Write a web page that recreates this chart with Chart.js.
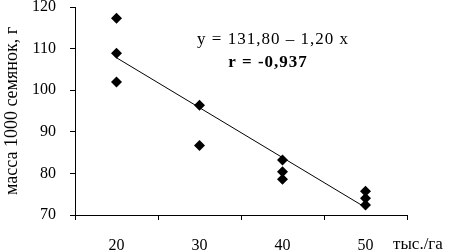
<!DOCTYPE html>
<html>
<head>
<meta charset="utf-8">
<script src="https://cdn.jsdelivr.net/npm/chart.js@4"></script>
<style>
  html, body { margin: 0; padding: 0; background: #fff; }
  #wrap { width: 452px; height: 252px; }
</style>
</head>
<body>
<div id="wrap"><canvas id="chartMassa"></canvas></div>
<script>
const densidades = ['20', '30', '40', '50'];
const puntosX = ['20', '20', '20', '30', '30', '40', '40', '40', '50', '50', '50'];
const puntosY = [117.3, 108.9, 102.0, 96.4, 86.7, 83.2, 80.4, 78.6, 75.7, 74.0, 72.4];
const tendenciaX = ['20', '50'];
const tendenciaY = [107.8, 71.8];
const yTicks = [70, 80, 90, 100, 110, 120];

const fuente = "'Liberation Serif', 'Times New Roman', serif";

const etiquetas = {
  id: 'etiquetas',
  afterDraw(chart) {
    const ctx = chart.ctx;
    const area = chart.chartArea;
    ctx.save();
    ctx.fillStyle = '#000';
    ctx.textAlign = 'center';
    ctx.textBaseline = 'middle';
    ctx.letterSpacing = '1px';
    ctx.font = '17px ' + fuente;
    ctx.fillText('y = 131,80 \u2013 1,20 x', 273, 40);
    ctx.font = 'bold 17px ' + fuente;
    ctx.fillText('r = -0,937', 268, 63);
    ctx.letterSpacing = '0px';
    ctx.font = '17px ' + fuente;
    ctx.textAlign = 'left';
    ctx.fillText('тыс./га', area.right - 14, 245);
    ctx.restore();
  }
};

new Chart(document.getElementById('chartMassa'), {
  type: 'scatter',
  data: {
    labels: densidades,
    datasets: [{
      label: 'масса',
      data: puntosX.map((x, i) => ({ x: x, y: puntosY[i] })),
      backgroundColor: '#000',
      borderColor: '#000',
      borderWidth: 0,
      pointStyle: 'rectRot',
      pointRadius: 5.5,
      showLine: false
    }, {
      label: 'тренд',
      data: tendenciaX.map((x, i) => ({ x: x, y: tendenciaY[i] })),
      borderColor: '#000',
      borderWidth: 1,
      pointRadius: 0,
      showLine: true,
      tension: 0
    }]
  },
  options: {
    responsive: true,
    maintainAspectRatio: false,
    animation: false,
    layout: { padding: { top: 0, right: 45, left: 0, bottom: 0 } },
    scales: {
      x: {
        type: 'category',
        labels: densidades,
        offset: true,
        border: { color: '#000', width: 1 },
        grid: { offset: true, drawOnChartArea: false, drawTicks: true, tickLength: 5, color: '#000' },
        ticks: { color: '#000', font: { family: fuente, size: 16 }, padding: 16, maxRotation: 0 },
        afterFit(scale) {
          scale.height = 37;
          scale.paddingLeft = 0;
          scale.paddingRight = 0;
        }
      },
      y: {
        min: 70,
        max: 120,
        border: { color: '#000', width: 1 },
        grid: { drawOnChartArea: false, drawTicks: true, tickLength: 5, color: '#000' },
        afterBuildTicks(scale) { scale.ticks = yTicks.map(v => ({ value: v })); },
        ticks: { color: '#000', font: { family: fuente, size: 16, lineHeight: 1 }, padding: 14 },
        title: {
          display: true,
          text: 'масса 1000 семянок, г',
          color: '#000',
          font: { family: fuente, size: 18 },
          padding: { top: 1, bottom: 0 }
        },
        afterFit(scale) {
          scale.width = 75;
          scale.paddingTop = 7;
          scale.paddingBottom = 0;
        }
      }
    },
    plugins: {
      legend: { display: false },
      tooltip: { enabled: false }
    }
  },
  plugins: [etiquetas]
});
</script>
</body>
</html>
